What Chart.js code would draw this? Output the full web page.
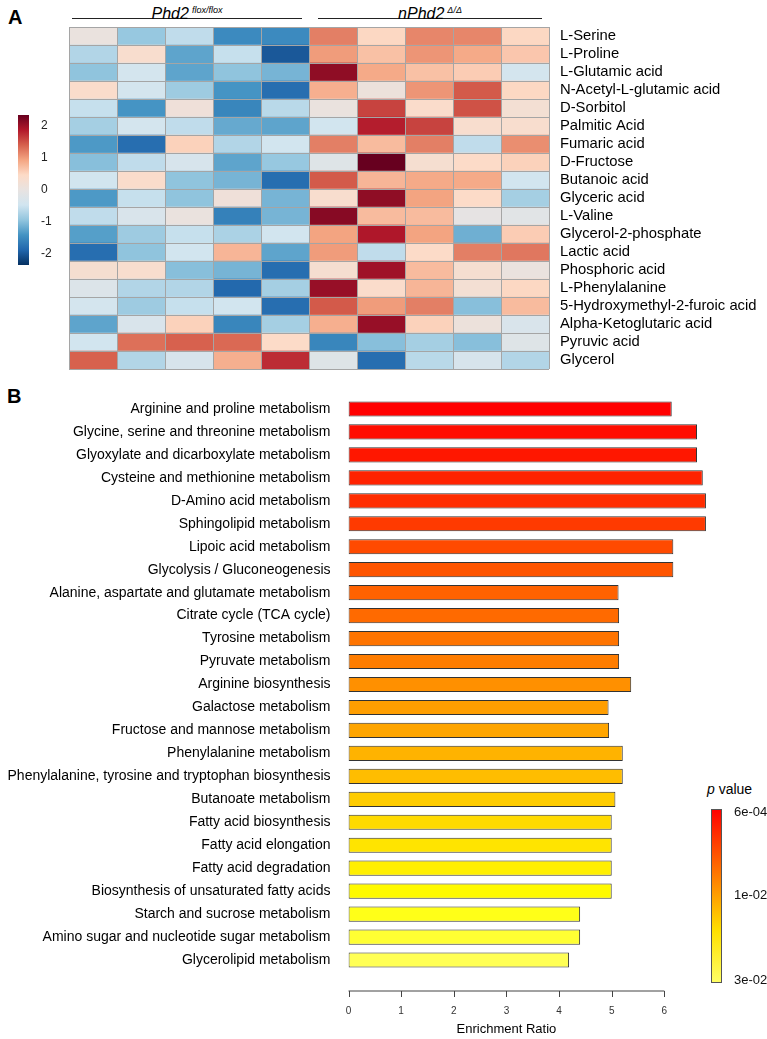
<!DOCTYPE html>
<html>
<head>
<meta charset="utf-8">
<script src="https://cdn.jsdelivr.net/npm/chart.js@4.4.1/dist/chart.umd.min.js"></script>
<style>
  body { margin: 0; width: 767px; height: 1039px; position: relative; background: #fff; overflow: hidden;
         font-family: "Liberation Sans", Arial, sans-serif; }
  canvas { position: absolute; }
  .panel { position: absolute; font-weight: bold; font-size: 20px; }
  .grp { position: absolute; top: 0; height: 18px; line-height: 20px; border-bottom: 1.5px solid #222;
         text-align: center; font-style: italic; font-size: 16px; }
  .grp sup { font-size: 9px; vertical-align: 6px; margin-left: 3px; }
</style>
</head>
<body>
<div class="panel" style="left:8px;top:6px">A</div>
<div class="panel" style="left:7px;top:385px">B</div>
<div class="grp" style="left:72px;width:230px">Phd2<sup>flox/flox</sup></div>
<div class="grp" style="left:318px;width:224px">nPhd2<sup>Δ/Δ</sup></div>
<div style="position:absolute;left:707px;top:781px;font-size:14px"><i>p</i> value</div>

<canvas id="heat" width="767" height="380" style="left:0;top:0"></canvas>
<canvas id="heatKey" width="60" height="180" style="left:0;top:100px"></canvas>
<canvas id="bars" width="767" height="644" style="left:0;top:395px"></canvas>
<canvas id="pKey" width="77" height="210" style="left:690px;top:790px"></canvas>

<script>
// ---- panel A data ----
const metabolites = [
  "L-Serine", "L-Proline", "L-Glutamic acid", "N-Acetyl-L-glutamic acid", "D-Sorbitol",
  "Palmitic Acid", "Fumaric acid", "D-Fructose", "Butanoic acid", "Glyceric acid",
  "L-Valine", "Glycerol-2-phosphate", "Lactic acid", "Phosphoric acid", "L-Phenylalanine",
  "5-Hydroxymethyl-2-furoic acid", "Alpha-Ketoglutaric acid", "Pyruvic acid", "Glycerol"
];
const samples = ["flox1", "flox2", "flox3", "flox4", "flox5", "ko1", "ko2", "ko3", "ko4", "ko5"];
const zScores = [
  [0.05, -0.9, -0.6, -1.5, -1.5, 1.2, 0.5, 1.15, 1.15, 0.5],
  [-0.7, 0.35, -1.25, -0.55, -2.0, 1.0, 0.7, 1.05, 0.9, 0.65],
  [-0.95, -0.4, -1.25, -0.95, -1.1, 2.1, 0.9, 0.7, 0.6, -0.4],
  [0.4, -0.4, -0.85, -1.4, -1.8, 0.85, 0.1, 1.05, 1.45, 0.5],
  [-0.55, -1.4, 0.15, -1.55, -0.65, 0.05, 1.6, 0.4, 1.5, 0.25],
  [-0.8, -0.4, -0.6, -1.2, -1.25, -0.45, 1.85, 1.6, 0.35, 0.35],
  [-1.35, -1.8, 0.55, -0.7, -0.45, 1.2, 0.75, 1.2, -0.6, 1.1],
  [-1.0, -0.6, -0.35, -1.25, -0.9, -0.2, 2.35, 0.3, 0.45, 0.55],
  [-0.45, 0.4, -0.95, -1.1, -1.8, 1.45, 0.8, 0.9, 0.9, -0.45],
  [-1.35, -0.55, -0.95, 0.15, -1.1, 0.35, 2.1, 0.95, 0.45, -0.8],
  [-0.6, -0.3, 0.05, -1.6, -1.1, 2.15, 0.75, 0.75, -0.05, -0.15],
  [-1.3, -0.85, -0.55, -0.75, -0.45, 0.95, 1.9, 0.95, -1.15, 0.6],
  [-1.8, -0.95, -0.45, 0.8, -1.25, 1.0, -0.6, 0.45, 1.2, 1.25],
  [0.3, 0.35, -1.0, -1.1, -1.8, 0.3, 2.0, 0.75, 0.3, 0.05],
  [-0.25, -0.7, -0.7, -1.85, -0.8, 2.05, 0.4, 0.8, 0.25, 0.5],
  [-0.4, -0.85, -0.55, -0.45, -1.8, 1.45, 1.0, 1.2, -1.0, 0.75],
  [-1.25, -0.3, 0.55, -1.55, -0.8, 0.85, 2.05, 0.55, 0.1, -0.3],
  [-0.45, 1.3, 1.4, 1.35, 0.45, -1.55, -1.0, -0.8, -1.0, -0.2],
  [1.4, -0.7, -0.35, 0.85, 1.75, -0.2, -1.8, -0.65, -0.35, -0.7]
];
const heatTicks = [-2, -1, 0, 1, 2];
const heatRange = [-2.35, 2.35];

// ---- panel B data ----
const pathways = [
  "Arginine and proline metabolism",
  "Glycine, serine and threonine metabolism",
  "Glyoxylate and dicarboxylate metabolism",
  "Cysteine and methionine metabolism",
  "D-Amino acid metabolism",
  "Sphingolipid metabolism",
  "Lipoic acid metabolism",
  "Glycolysis / Gluconeogenesis",
  "Alanine, aspartate and glutamate metabolism",
  "Citrate cycle (TCA cycle)",
  "Tyrosine metabolism",
  "Pyruvate metabolism",
  "Arginine biosynthesis",
  "Galactose metabolism",
  "Fructose and mannose metabolism",
  "Phenylalanine metabolism",
  "Phenylalanine, tyrosine and tryptophan biosynthesis",
  "Butanoate metabolism",
  "Fatty acid biosynthesis",
  "Fatty acid elongation",
  "Fatty acid degradation",
  "Biosynthesis of unsaturated fatty acids",
  "Starch and sucrose metabolism",
  "Amino sugar and nucleotide sugar metabolism",
  "Glycerolipid metabolism"
];
const enrichment = [6.14, 6.62, 6.62, 6.73, 6.79, 6.79, 6.17, 6.17, 5.13, 5.14, 5.14, 5.14, 5.37,
                    4.94, 4.95, 5.21, 5.21, 5.07, 5.0, 5.0, 5.0, 5.0, 4.4, 4.4, 4.19];
const pTickLabels = ["3e-02", "1e-02", "6e-04"];
const pTickPos = [0.017, 0.506, 0.983];

// ---- styles ----
const barColors = ["#ff0000", "#ff0d00", "#ff1700", "#ff2200", "#ff2d00", "#ff3a00", "#ff4a00", "#ff5500",
  "#ff6200", "#ff6a00", "#ff7400", "#ff7d00", "#ff9000", "#ff9e00", "#ffa500", "#ffb300", "#ffbd00",
  "#ffcc00", "#ffda00", "#ffe400", "#ffef00", "#fffa00", "#ffff18", "#ffff33", "#ffff55"];
const heatPalette = [
  [-2.35, "#053061"], [-1.88, "#2166ac"], [-1.41, "#4393c3"], [-0.94, "#92c5de"], [-0.47, "#d1e5f0"],
  [0, "#e8e3e1"], [0.47, "#fddbc7"], [0.94, "#f4a582"], [1.41, "#d6604d"], [1.88, "#b2182b"], [2.35, "#67001f"]
];

function hexRgb(h) { return [1, 3, 5].map(i => parseInt(h.substr(i, 2), 16)); }
function heatColor(v) {
  v = Math.max(heatRange[0], Math.min(heatRange[1], v));
  for (let i = 1; i < heatPalette.length; i++) {
    const [v1, c1] = heatPalette[i];
    if (v <= v1) {
      const [v0, c0] = heatPalette[i - 1];
      const t = (v - v0) / (v1 - v0);
      const a = hexRgb(c0), b = hexRgb(c1);
      return "rgb(" + a.map((x, k) => Math.round(x + (b[k] - x) * t)).join(",") + ")";
    }
  }
  return heatPalette[heatPalette.length - 1][1];
}

Chart.defaults.font.family = '"Liberation Sans", Arial, sans-serif';
Chart.defaults.color = "#000";
Chart.defaults.animation = false;
Chart.defaults.plugins.legend.display = false;
Chart.defaults.plugins.tooltip.enabled = false;

// keep category axes from reserving extra room for their end labels
const noEndPad = s => { s.paddingTop = 0; s.paddingBottom = 0; };

// heatmap: one floating bar per cell
new Chart(document.getElementById("heat"), {
  type: "bar",
  data: {
    labels: metabolites,
    datasets: samples.map((s, j) => ({
      label: s,
      data: metabolites.map(() => [j, j + 1]),
      backgroundColor: zScores.map(row => heatColor(row[j])),
      grouped: false,
      barPercentage: 1,
      categoryPercentage: 1,
      borderWidth: 0
    }))
  },
  options: {
    responsive: false,
    indexAxis: "y",
    layout: { padding: { left: 69, top: 27 } },
    scales: {
      x: {
        type: "linear", min: 0, max: samples.length,
        ticks: { display: false, stepSize: 1 },
        grid: { color: "#a5a5a5", z: 1, drawTicks: false },
        border: { display: false },
        afterFit: s => { s.height = 11; }
      },
      y: {
        position: "right",
        grid: { color: "#a5a5a5", z: 1, drawTicks: false, offset: true },
        border: { display: false },
        ticks: { font: { size: 14.8 }, padding: 11, autoSkip: false },
        afterFit: s => { s.width = 218; noEndPad(s); }
      }
    }
  }
});

// colour key for the heatmap
const gradientFill = stops => ({
  id: "gradientFill",
  beforeDatasetsDraw(chart) {
    const { ctx, chartArea: a, scales: { y } } = chart;
    const g = ctx.createLinearGradient(0, a.top, 0, a.bottom);
    stops(y).forEach(([off, c]) => g.addColorStop(Math.max(0, Math.min(1, off)), c));
    ctx.save();
    ctx.fillStyle = g;
    ctx.fillRect(a.left, a.top, a.right - a.left, a.bottom - a.top);
    ctx.restore();
  }
});

new Chart(document.getElementById("heatKey"), {
  type: "scatter",
  data: { datasets: [] },
  options: {
    responsive: false,
    layout: { padding: { left: 18, top: 15, bottom: 15 } },
    scales: {
      x: { display: false },
      y: {
        position: "right", min: heatRange[0], max: heatRange[1],
        afterBuildTicks: s => { s.ticks = heatTicks.map(v => ({ value: v })); },
        grid: { display: false }, border: { display: false },
        ticks: { font: { size: 12 }, color: "#222", padding: 4 },
        afterFit: s => { s.width = 31; noEndPad(s); }
      }
    }
  },
  plugins: [gradientFill(y => heatPalette.map(([v, c]) =>
    [(y.getPixelForValue(v) - y.top) / (y.bottom - y.top), c]))]
});

// panel B axis drawn R-style: line only from 0 to 6, detached from the bars
const rAxis = {
  id: "rAxis",
  afterDraw(chart) {
    const { ctx, chartArea: a, scales: { x } } = chart;
    const yLine = a.bottom + 19.5;
    ctx.save();
    ctx.strokeStyle = "#444";
    ctx.lineWidth = 1;
    ctx.beginPath();
    ctx.moveTo(x.getPixelForValue(0), yLine);
    ctx.lineTo(x.getPixelForValue(6), yLine);
    x.ticks.forEach(t => {
      const px = Math.round(x.getPixelForValue(t.value)) + 0.5;
      ctx.moveTo(px, yLine);
      ctx.lineTo(px, yLine + 6);
    });
    ctx.stroke();
    ctx.fillStyle = "#000";
    ctx.font = '13px "Liberation Sans", Arial, sans-serif';
    ctx.textAlign = "center";
    ctx.textBaseline = "middle";
    ctx.fillText("Enrichment Ratio", (x.getPixelForValue(0) + x.getPixelForValue(6)) / 2, a.bottom + 57.5);
    ctx.restore();
  }
};

new Chart(document.getElementById("bars"), {
  type: "bar",
  data: {
    labels: pathways,
    datasets: [{
      data: enrichment,
      backgroundColor: barColors,
      borderColor: "#333",
      borderWidth: 1,
      borderSkipped: false,
      barPercentage: 0.66,
      categoryPercentage: 1
    }]
  },
  options: {
    responsive: false,
    indexAxis: "y",
    layout: { padding: { top: 2.5, right: 50 } },
    scales: {
      x: {
        min: 0, max: 7,
        afterBuildTicks: s => { s.ticks = s.ticks.filter(t => t.value <= 6); },
        grid: { display: false }, border: { display: false },
        ticks: { stepSize: 1, padding: 26, color: "#333", font: { size: 10 } },
        afterFit: s => { s.height = 67.5; }
      },
      y: {
        grid: { display: false }, border: { display: false },
        ticks: { font: { size: 14 }, padding: 10, autoSkip: false },
        afterFit: s => { s.width = 348.5; noEndPad(s); }
      }
    }
  },
  plugins: [rAxis]
});

// p value key
const pStops = [[0, "#ffff66"], [0.3, "#ffe000"], [0.5, "#ffa000"], [0.75, "#ff5000"], [1, "#ff0000"]];
new Chart(document.getElementById("pKey"), {
  type: "scatter",
  data: { datasets: [] },
  options: {
    responsive: false,
    layout: { padding: { left: 21, top: 19, bottom: 17 } },
    scales: {
      x: { display: false },
      y: {
        position: "right", min: 0, max: 1,
        afterBuildTicks: s => { s.ticks = pTickPos.map(v => ({ value: v })); },
        grid: { display: false }, border: { display: false },
        ticks: { font: { size: 13 }, color: "#111", padding: 4,
                 callback: (v) => pTickLabels[pTickPos.indexOf(v)] },
        afterFit: s => { s.width = 45; noEndPad(s); }
      }
    }
  },
  plugins: [gradientFill(y => pStops.map(([v, c]) => [(y.getPixelForValue(v) - y.top) / (y.bottom - y.top), c])),
    { id: "keyFrame", afterDraw(chart) {
        const { ctx, chartArea: a } = chart;
        ctx.save(); ctx.strokeStyle = "#555"; ctx.lineWidth = 1;
        ctx.strokeRect(Math.round(a.left) + 0.5, Math.round(a.top) + 0.5,
                       Math.round(a.right - a.left) - 1, Math.round(a.bottom - a.top) - 1);
        ctx.restore();
    } }]
});
</script>
</body>
</html>
